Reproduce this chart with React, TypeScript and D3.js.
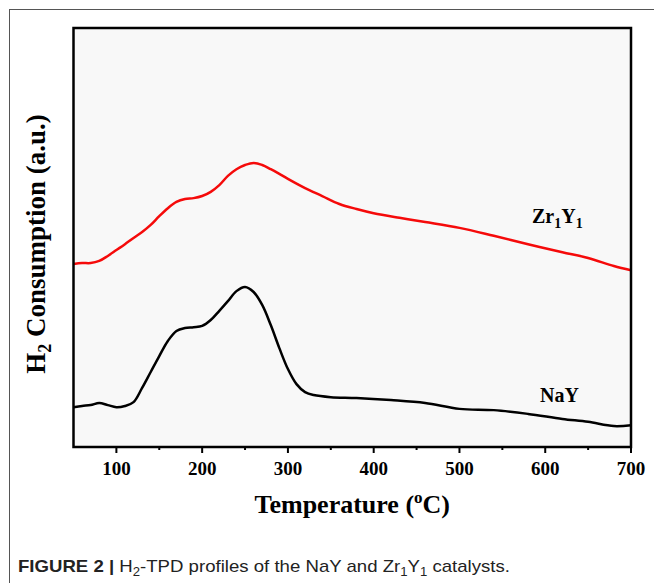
import React from "react";
import { scaleLinear, line, curveCatmullRom } from "d3";

// temperatures (oC) and H2 signal (a.u.)
const zrTemps = [50, 60, 70, 80, 90, 100, 110, 120, 130, 140, 150, 160, 170, 180, 190, 200, 210, 220, 230, 240, 250, 260, 270, 280, 290, 300, 320, 340, 360, 380, 400, 430, 460, 500, 540, 580, 620, 650, 680, 700];
const zrValues = [4.37, 4.39, 4.39, 4.44, 4.56, 4.7, 4.84, 4.99, 5.13, 5.3, 5.51, 5.7, 5.85, 5.92, 5.94, 5.99, 6.09, 6.25, 6.47, 6.63, 6.73, 6.78, 6.73, 6.63, 6.52, 6.4, 6.18, 5.99, 5.8, 5.68, 5.58, 5.47, 5.37, 5.23, 5.04, 4.84, 4.65, 4.51, 4.32, 4.22];

const nayTemps = [50, 60, 70, 80, 90, 100, 110, 120, 130, 140, 150, 160, 170, 180, 190, 200, 210, 220, 230, 240, 250, 260, 270, 280, 290, 300, 310, 320, 330, 350, 380, 420, 460, 500, 540, 580, 620, 650, 680, 700];
const nayValues = [0.95, 0.98, 1.0, 1.05, 1.0, 0.95, 0.98, 1.07, 1.41, 1.79, 2.17, 2.53, 2.77, 2.84, 2.86, 2.89, 3.03, 3.25, 3.48, 3.72, 3.82, 3.7, 3.39, 2.91, 2.36, 1.86, 1.5, 1.31, 1.24, 1.19, 1.17, 1.12, 1.05, 0.91, 0.88, 0.79, 0.67, 0.6, 0.5, 0.52];

const xTicks = [100, 200, 300, 400, 500, 600, 700];
const xMinorTicks = [100, 150, 200, 250, 300, 350, 400, 450, 500, 550, 600, 650, 700];

const width = 654;
const height = 583;
const plot = { left: 73.5, right: 631, top: 28, bottom: 447 };

const serif = "'Liberation Serif', 'Times New Roman', serif";

export default function App() {
  const x = scaleLinear().domain([50, 700]).range([plot.left, plot.right]);
  const y = scaleLinear().domain([0, 10]).range([plot.bottom, plot.top]);

  const zrLine = line<number>()
    .x((d) => x(d))
    .y((d, i) => y(zrValues[i]))
    .curve(curveCatmullRom);

  const nayLine = line<number>()
    .x((d) => x(d))
    .y((d, i) => y(nayValues[i]))
    .curve(curveCatmullRom);

  return (
    <svg
      width={width}
      height={height}
      style={{ position: "absolute", left: 0, top: 0, background: "#fff" }}
    >
      {/* page border */}
      <line x1={9} y1={9.5} x2={width} y2={9.5} stroke="#555" strokeWidth={1} />
      <line x1={9.5} y1={9} x2={9.5} y2={height} stroke="#555" strokeWidth={1} />

      {/* plot area */}
      <rect
        x={plot.left}
        y={plot.top}
        width={plot.right - plot.left}
        height={plot.bottom - plot.top}
        fill="#f8f8f8"
      />

      <path d={zrLine(zrTemps) || ""} fill="none" stroke="#f50a0a" strokeWidth={2.5} strokeLinejoin="round" />
      <path d={nayLine(nayTemps) || ""} fill="none" stroke="#000" strokeWidth={2.5} strokeLinejoin="round" />

      <rect
        x={plot.left}
        y={plot.top}
        width={plot.right - plot.left}
        height={plot.bottom - plot.top}
        fill="none"
        stroke="#000"
        strokeWidth={2.5}
      />

      {/* x ticks */}
      {xMinorTicks.map((t) => (
        <line
          key={"m" + t}
          x1={x(t)}
          x2={x(t)}
          y1={plot.bottom}
          y2={plot.bottom + (t % 100 === 0 ? 6 : 3)}
          stroke="#000"
          strokeWidth={2}
        />
      ))}
      {xTicks.map((t) => (
        <text
          key={t}
          x={x(t)}
          y={475}
          textAnchor="middle"
          fontFamily={serif}
          fontWeight="bold"
          fontSize={19}
        >
          {t}
        </text>
      ))}

      {/* axis titles */}
      <text
        x={(plot.left + plot.right) / 2}
        y={513}
        textAnchor="middle"
        fontFamily={serif}
        fontWeight="bold"
        fontSize={26}
      >
        Temperature (
        <tspan fontSize={17} dy={-10}>o</tspan>
        <tspan dy={10}>C)</tspan>
      </text>
      <text
        transform="translate(45, 244) rotate(-90)"
        textAnchor="middle"
        fontFamily={serif}
        fontWeight="bold"
        fontSize={27}
      >
        H
        <tspan fontSize={18} dy={6}>2</tspan>
        <tspan dy={-6}> Consumption (a.u.)</tspan>
      </text>

      {/* series labels */}
      <text x={532} y={223} fontFamily={serif} fontWeight="bold" fontSize={20}>
        Zr
        <tspan fontSize={14} dy={5}>1</tspan>
        <tspan dy={-5}>Y</tspan>
        <tspan fontSize={14} dy={5}>1</tspan>
      </text>
      <text x={540} y={402} fontFamily={serif} fontWeight="bold" fontSize={20}>
        NaY
      </text>

      {/* caption */}
      <text
        x={18}
        y={572}
        fontFamily="'Liberation Sans Narrow', 'Liberation Sans', Arial, sans-serif"
        fontSize={17}
        fill="#222"
        textLength={492}
        lengthAdjust="spacingAndGlyphs"
      >
        <tspan fontWeight="bold">FIGURE 2 |</tspan> H
        <tspan fontSize={12} dy={4}>2</tspan>
        <tspan dy={-4}>-TPD profiles of the NaY and Zr</tspan>
        <tspan fontSize={12} dy={4}>1</tspan>
        <tspan dy={-4}>Y</tspan>
        <tspan fontSize={12} dy={4}>1</tspan>
        <tspan dy={-4}> catalysts.</tspan>
      </text>
    </svg>
  );
}
